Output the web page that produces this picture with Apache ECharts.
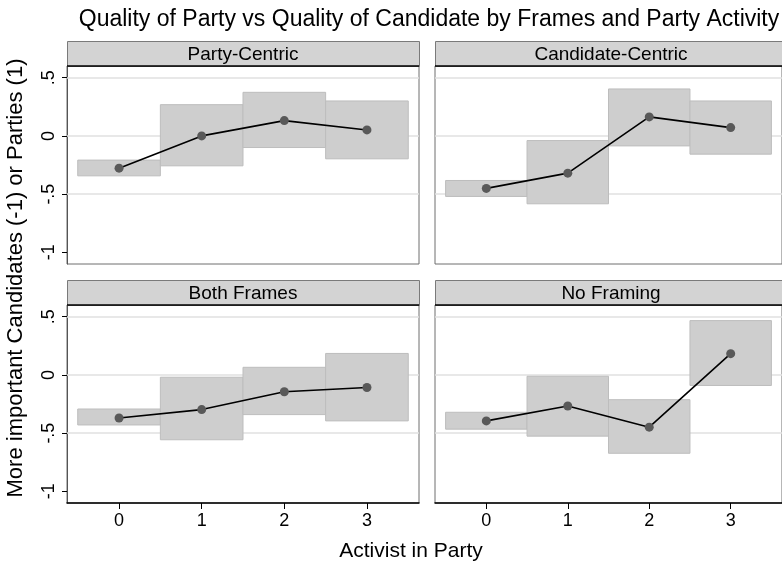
<!DOCTYPE html>
<html>
<head>
<meta charset="utf-8">
<script src="https://cdn.jsdelivr.net/npm/echarts@6/dist/echarts.min.js"></script>
<style>
  html, body { margin: 0; padding: 0; background: #fff; }
  #chart { width: 782px; height: 565px; }
</style>
</head>
<body>
<div id="chart"></div>
<script>
// Activist-in-party levels on the x axis
const activistLevels = [0, 1, 2, 3];
const panelNames = ['Party-Centric', 'Candidate-Centric', 'Both Frames', 'No Framing'];

// Means and confidence bounds per frame
const partyCentricMean  = [-0.277, 0.000, 0.131, 0.051];
const partyCentricLow   = [-0.343, -0.257, -0.100, -0.197];
const partyCentricHigh  = [-0.208, 0.268, 0.374, 0.300];

const candCentricMean   = [-0.451, -0.320, 0.163, 0.071];
const candCentricLow    = [-0.520, -0.583, -0.086, -0.157];
const candCentricHigh   = [-0.383, -0.040, 0.403, 0.300];

const bothFramesMean    = [-0.370, -0.298, -0.145, -0.108];
const bothFramesLow     = [-0.430, -0.557, -0.341, -0.395];
const bothFramesHigh    = [-0.293, -0.020, 0.065, 0.184];

const noFramingMean     = [-0.395, -0.267, -0.449, 0.182];
const noFramingLow      = [-0.466, -0.526, -0.673, -0.091];
const noFramingHigh     = [-0.321, -0.012, -0.213, 0.466];

const yTickValues = [-1, -0.5, 0, 0.5];
const yTickLabels = ['-1', '-.5', '0', '.5'];
const yGridValues = [-0.5, 0, 0.5];

const panelMeans = [partyCentricMean, candCentricMean, bothFramesMean, noFramingMean];
const panelLows  = [partyCentricLow, candCentricLow, bothFramesLow, noFramingLow];
const panelHighs = [partyCentricHigh, candCentricHigh, bothFramesHigh, noFramingHigh];

// Layout of the 2x2 facet grid (pixels)
const FONT = 'Liberation Sans, Arial, sans-serif';
const colLeft = [67, 435];
const rowTop = [66, 305];
const plotW = 352, plotH = 198, stripH = 25;

const chart = echarts.init(document.getElementById('chart'), null, { renderer: 'canvas' });

const grids = [], xAxes = [], yAxes = [], series = [], graphics = [];

panelNames.forEach((name, i) => {
  const col = i % 2, row = Math.floor(i / 2);
  const isBottom = row === 1, isLeft = col === 0;
  grids.push({
    left: colLeft[col], top: rowTop[row], width: plotW, height: plotH,
    show: true, borderColor: '#6e6e6e', borderWidth: 1, backgroundColor: '#fff'
  });
  xAxes.push({
    gridIndex: i, type: 'value', min: -0.63, max: 3.63,
    axisLine: { show: isBottom, onZero: false, lineStyle: { color: '#000', width: 1.5 } },
    axisTick: { show: isBottom, customValues: activistLevels, length: 6, lineStyle: { color: '#000' } },
    axisLabel: { show: isBottom, customValues: activistLevels, color: '#000',
                 fontFamily: FONT, fontSize: 18, margin: 9 },
    splitLine: { show: false }
  });
  yAxes.push({
    gridIndex: i, type: 'value', min: -1.1, max: 0.6,
    axisLine: { show: isLeft, onZero: false, lineStyle: { color: '#555', width: 1 } },
    axisTick: { show: isLeft, customValues: yTickValues, length: 5, lineStyle: { color: '#000' } },
    axisLabel: { show: isLeft, customValues: yTickValues, rotate: 90, color: '#000',
                 fontFamily: FONT, fontSize: 18, margin: 9,
                 formatter: v => yTickLabels[yTickValues.indexOf(Math.round(v * 10) / 10)] },
    splitLine: { show: false }
  });

  // Confidence boxes spanning each activist level
  const boxData = activistLevels.map((x, k) => [x, panelLows[i][k], panelHighs[i][k]]);
  series.push({
    type: 'custom', xAxisIndex: i, yAxisIndex: i, data: boxData, z: 2,
    renderItem: (params, api) => {
      const x = api.value(0);
      const p1 = api.coord([x - 0.5, api.value(2)]);
      const p2 = api.coord([x + 0.5, api.value(1)]);
      return {
        type: 'rect',
        shape: { x: p1[0], y: p1[1], width: p2[0] - p1[0], height: p2[1] - p1[1] },
        style: { fill: '#cecece', stroke: '#bdbdbd', lineWidth: 1 }
      };
    }
  });

  // Gridlines plus the mean line
  series.push({
    type: 'line', xAxisIndex: i, yAxisIndex: i, z: 3,
    data: activistLevels.map((x, k) => [x, panelMeans[i][k]]),
    symbol: 'circle', symbolSize: 9,
    itemStyle: { color: '#595959' },
    lineStyle: { color: '#000', width: 1.6 },
    markLine: {
      silent: true, symbol: 'none', z: 1, label: { show: false },
      lineStyle: { color: '#e0e0e0', width: 1.5, type: 'solid' },
      data: yGridValues.map(v => ({ yAxis: v }))
    },
    animation: false
  });

  // Facet strip header
  const sx = colLeft[col], sy = rowTop[row] - stripH;
  graphics.push({
    type: 'rect', left: sx, top: sy, z: 10,
    shape: { width: plotW, height: stripH },
    style: { fill: '#d3d3d3', stroke: '#7a7a7a', lineWidth: 1 }
  });
  graphics.push({
    type: 'line', z: 11,
    shape: { x1: sx, y1: sy + stripH, x2: sx + plotW, y2: sy + stripH },
    style: { stroke: '#000', lineWidth: 1.5 }
  });
  graphics.push({
    type: 'text', z: 12, x: sx + plotW / 2, y: sy + stripH / 2 + 1,
    style: { text: name, font: '19px ' + FONT, fill: '#000', align: 'center', verticalAlign: 'middle' }
  });
});

// Shared axis titles
graphics.push({
  type: 'text', x: 16, y: 278, rotation: Math.PI / 2,
  style: { text: 'More important Candidates (-1) or Parties (1)', font: '22px ' + FONT,
           fill: '#000', align: 'center', verticalAlign: 'middle' }
});
graphics.push({
  type: 'text', x: 411, y: 551,
  style: { text: 'Activist in Party', font: '21px ' + FONT, fill: '#000',
           align: 'center', verticalAlign: 'middle' }
});

chart.setOption({
  animation: false,
  backgroundColor: '#fff',
  title: {
    text: 'Quality of Party vs Quality of Candidate by Frames and Party Activity',
    left: 424, top: 3, textAlign: 'center',
    textStyle: { fontFamily: FONT, fontSize: 23, fontWeight: 'normal', color: '#000' }
  },
  grid: grids, xAxis: xAxes, yAxis: yAxes, series: series, graphic: graphics
});
</script>
</body>
</html>
